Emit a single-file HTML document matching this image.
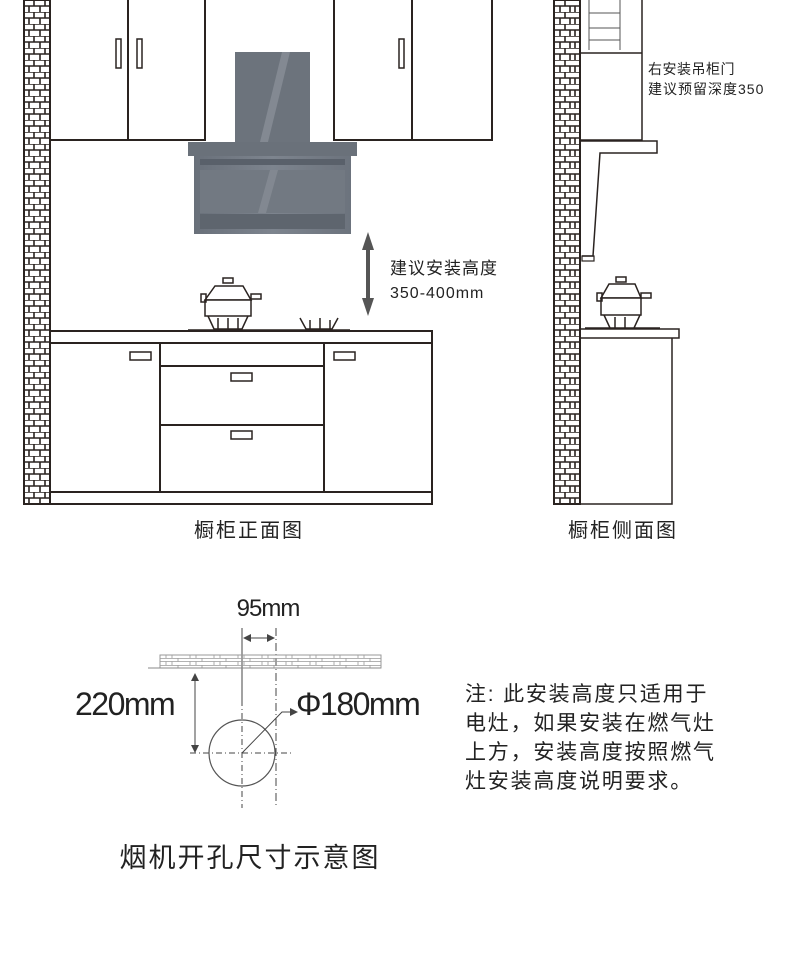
<!DOCTYPE html>
<html><head><meta charset="utf-8"><style>
html,body{margin:0;padding:0;background:#fff}
svg{display:block}
text{font-family:"Liberation Sans","Noto Sans CJK SC",sans-serif;fill:#222}
</style></head><body>
<svg width="790" height="976" viewBox="0 0 790 976" xmlns="http://www.w3.org/2000/svg">
<defs>
<pattern id="brick" width="26" height="12" patternUnits="userSpaceOnUse">
<rect width="26" height="12" fill="#fff"/>
<path d="M0 0H26M0 6H26M8 0V6M19 0V6M3 6V12M14 6V12M24 6V12" stroke="#2a2320" stroke-width="1.6" fill="none"/>
</pattern>
<pattern id="brick2" width="24" height="7" patternUnits="userSpaceOnUse">
<path d="M0 0.5H24M0 3.5H24M10 0V3.5M22 3.5V7M4 3.5V7" stroke="#999" stroke-width="0.8" fill="none"/>
</pattern>
<linearGradient id="hg" x1="0" y1="0" x2="1" y2="0">
<stop offset="0" stop-color="#69707a"/><stop offset="0.5" stop-color="#7d848e"/><stop offset="1" stop-color="#6c737d"/>
</linearGradient>
</defs>
<g stroke="#2a2320" stroke-width="2" fill="none">
<rect x="24" y="0" width="26" height="504" fill="url(#brick)"/>
<line x1="24" y1="0" x2="24" y2="504"/><line x1="50" y1="0" x2="50" y2="504"/>
<path d="M50 140H205V0M128 0V140M334 0V140H492V0M412 0V140"/>
<rect x="116" y="39" width="5" height="29" stroke-width="1.5"/>
<rect x="137" y="39" width="5" height="29" stroke-width="1.5"/>
<rect x="399" y="39" width="5" height="29" stroke-width="1.5"/>
<rect x="50" y="331" width="382" height="12"/>
<rect x="50" y="343" width="382" height="149"/>
<rect x="50" y="492" width="382" height="12"/>
<path d="M160 343V492M324 343V492M160 366H324M160 425H324"/>
<rect x="130" y="352" width="21" height="8" stroke-width="1.5"/>
<rect x="334" y="352" width="21" height="8" stroke-width="1.5"/>
<rect x="231" y="373" width="21" height="8" stroke-width="1.5"/>
<rect x="231" y="431" width="21" height="8" stroke-width="1.5"/>
<g stroke-width="1.5">
<path d="M188 330H350"/>
<rect x="223" y="278" width="10" height="5"/>
<path d="M205 300L215 286H243L251 300Z" fill="#fff"/>
<rect x="205" y="300" width="46" height="16" fill="#fff"/>
<rect x="201" y="294" width="5" height="8"/><rect x="251" y="294" width="10" height="5"/>
<path d="M208 316L214 329H242L248 316M218 318V329M228 318V329M238 318V329"/>
<path d="M300 318L306 329H332L338 318M310 320V329M320 318V329M330 320V329"/>
</g>
<rect x="554" y="0" width="26" height="504" fill="url(#brick)"/>
<line x1="554" y1="0" x2="554" y2="504"/><line x1="580" y1="0" x2="580" y2="504"/>
<path d="M580 53H642V0M642 53V140H580" stroke-width="1.5"/>
<path d="M589 0V50M620 0V50M589 13H620M589 28H620M589 40H620" stroke-width="1" stroke="#555"/>
<path d="M581 141H657V153H600L593 256H582" stroke-width="1.5"/>
<rect x="582" y="256" width="12" height="5" stroke-width="1.2"/>
<rect x="580" y="329" width="99" height="9" stroke-width="1.5"/>
<path d="M672 338V504H580" stroke-width="1.5"/>
<g stroke-width="1.5">
<rect x="616" y="277" width="10" height="5"/>
<path d="M601 298L609 284H635L641 298Z" fill="#fff"/>
<rect x="601" y="298" width="40" height="17" fill="#fff"/>
<rect x="597" y="293" width="5" height="8"/><rect x="641" y="293" width="10" height="5"/>
<path d="M604 315L610 328H634L640 315M615 317V328M625 317V328M585 328H660"/>
</g>
</g>
<rect x="235" y="52" width="75" height="90" fill="#6c737c"/>
<path d="M282 52H290L268 142H260Z" fill="#9aa0a8" opacity="0.5"/>
<rect x="188" y="142" width="169" height="14" fill="#6a717a"/>
<rect x="200" y="156" width="145" height="3" fill="#e8eaec"/>
<path d="M194 156H351V234H194Z" fill="url(#hg)"/>
<rect x="200" y="159" width="145" height="6" fill="#59606a"/>
<rect x="200" y="170" width="145" height="43" fill="#727982"/>
<rect x="200" y="214" width="145" height="15" fill="#5e656e"/>
<path d="M270 170H278L266 213H258Z" fill="#9aa0a8" opacity="0.4"/>
<path d="M368 232L362 250H366V298H362L368 316L374 298H370V250H374Z" fill="#555"/>
<text x="390" y="274" font-size="17" letter-spacing="1">建议安装高度</text>
<text x="390" y="298" font-size="16" letter-spacing="1">350-400mm</text>
<text x="648" y="74" font-size="14" letter-spacing="0.5">右安装吊柜门</text>
<text x="648" y="94" font-size="14" letter-spacing="1">建议预留深度350</text>
<text x="249" y="537" font-size="20" text-anchor="middle" letter-spacing="2" fill="#333">橱柜正面图</text>
<text x="623" y="537" font-size="20" text-anchor="middle" letter-spacing="2" fill="#333">橱柜侧面图</text>
<text x="268" y="616" font-size="24" text-anchor="middle" letter-spacing="-1">95mm</text>
<g stroke="#444" fill="none" stroke-width="1">
<line x1="242" y1="628" x2="242" y2="700"/>
<line x1="242" y1="700" x2="242" y2="808" stroke-dasharray="6 3 1 3"/>
<line x1="276" y1="628" x2="276" y2="808" stroke-dasharray="8 3 1 3"/>
<line x1="250" y1="638" x2="268" y2="638"/>
<rect x="160" y="655" width="221" height="13" fill="url(#brick2)" stroke="#999"/>
<line x1="148" y1="668" x2="381" y2="668" stroke="#888"/>
<line x1="195" y1="679" x2="195" y2="748"/>
<line x1="190" y1="753" x2="292" y2="753" stroke-dasharray="6 3 1 3"/>
<circle cx="242" cy="753" r="33" stroke="#555" stroke-width="1.2"/>
<path d="M242 753L282 712H292"/>
</g>
<g fill="#444">
<path d="M243 638L251 634V642Z"/><path d="M275 638L267 634V642Z"/>
<path d="M195 673L191 681H199Z"/><path d="M195 753L191 745H199Z"/>
<path d="M298 712L290 708V716Z"/>
</g>
<text x="75" y="715" font-size="32" letter-spacing="-1.5">220mm</text>
<text x="296" y="715" font-size="32" letter-spacing="-1.5">Φ180mm</text>
<text x="250" y="867" font-size="27" text-anchor="middle" letter-spacing="2" fill="#222">烟机开孔尺寸示意图</text>
<g font-size="21" fill="#222" letter-spacing="1.8">
<text x="465" y="701">注: 此安装高度只适用于</text>
<text x="465" y="730">电灶，如果安装在燃气灶</text>
<text x="465" y="759">上方，安装高度按照燃气</text>
<text x="465" y="788">灶安装高度说明要求。</text>
</g>
</svg>
</body></html>
